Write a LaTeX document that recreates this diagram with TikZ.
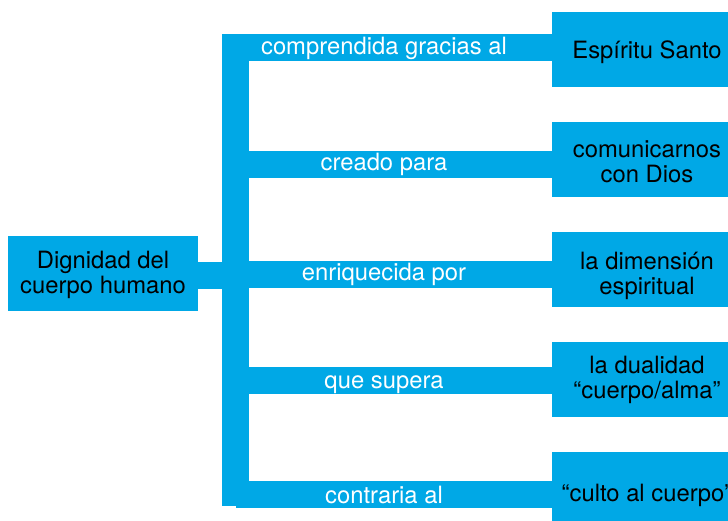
\documentclass[tikz,border=0pt]{standalone}
\usepackage{fontspec}
\setmainfont{TeX Gyre Heros}
\definecolor{mapcyan}{RGB}{0,168,230}
\newcommand\mystrut[1]{\rule{0pt}{#1}}
\begin{document}
\begin{tikzpicture}[x=1pt,y=-1pt,
  txt/.style={font=\fontsize{23.8pt}{25pt}\selectfont},
  box/.style={txt, fill=mapcyan, draw=none, minimum width=190pt, minimum height=75pt,
    inner sep=0pt, align=center, text=black},
  spinebar/.style={fill=mapcyan, draw=none, minimum width=27pt, minimum height=472pt, inner sep=0pt},
  link/.style={draw=mapcyan, line width=27pt},
  lbl/.style={txt, text=white, inner sep=0pt, anchor=base}]
\useasboundingbox (0,0) rectangle (728,521);
\clip (0,0) rectangle (728,521);
% nodes
\node[box] (root) at (103,273.5) {\mystrut{21pt}Dignidad del\\cuerpo humano\rule[-3pt]{0pt}{3pt}};
\node[spinebar] (spine) at (235.5,270) {};
\node[box] (r1) at (647,49.5) {\mystrut{24pt}Espíritu Santo\rule[-3pt]{0pt}{3pt}};
\node[box] (r2) at (647,159.5) {\mystrut{24.5pt}comunicarnos\\con Dios\rule[-3pt]{0pt}{3pt}};
\node[box] (r3) at (647,269.5) {\mystrut{30pt}la dimensión\\espiritual\rule[-3pt]{0pt}{3pt}};
\node[box] (r4) at (647,379.5) {\mystrut{19pt}la dualidad\\“cuerpo/alma”\rule[-3pt]{0pt}{3pt}};
\node[box] (r5) at (647,489.5) {\mystrut{30pt}“culto al cuerpo”\rule[-3pt]{0pt}{3pt}};
% band levels
\coordinate (c0) at (0,275.5);
\coordinate (c1) at (0,47.5);
\coordinate (c2) at (0,165);
\coordinate (c3) at (0,274.5);
\coordinate (c4) at (0,380);
\coordinate (c5) at (0,494.5);
% connectors
\draw[link] (root.east |- c0) -- (spine.center |- c0);
\draw[link] (spine.west |- c1) -- (r1.west |- c1);
\draw[link] (spine.center |- c2) -- (r2.west |- c2);
\draw[link] (spine.center |- c3) -- (r3.west |- c3);
\draw[link] (spine.center |- c4) -- (r4.west |- c4);
\draw[link] (spine.center |- c5) -- (r5.west |- c5);
% labels
\node[lbl] (l1) at (384,55) {comprendida gracias al};
\node[lbl] (l2) at (384,171) {creado para};
\node[lbl] (l3) at (384,281) {enriquecida por};
\node[lbl] (l4) at (384,388) {que supera};
\node[lbl] (l5) at (384,503.5) {contraria al};
\end{tikzpicture}
\end{document}
